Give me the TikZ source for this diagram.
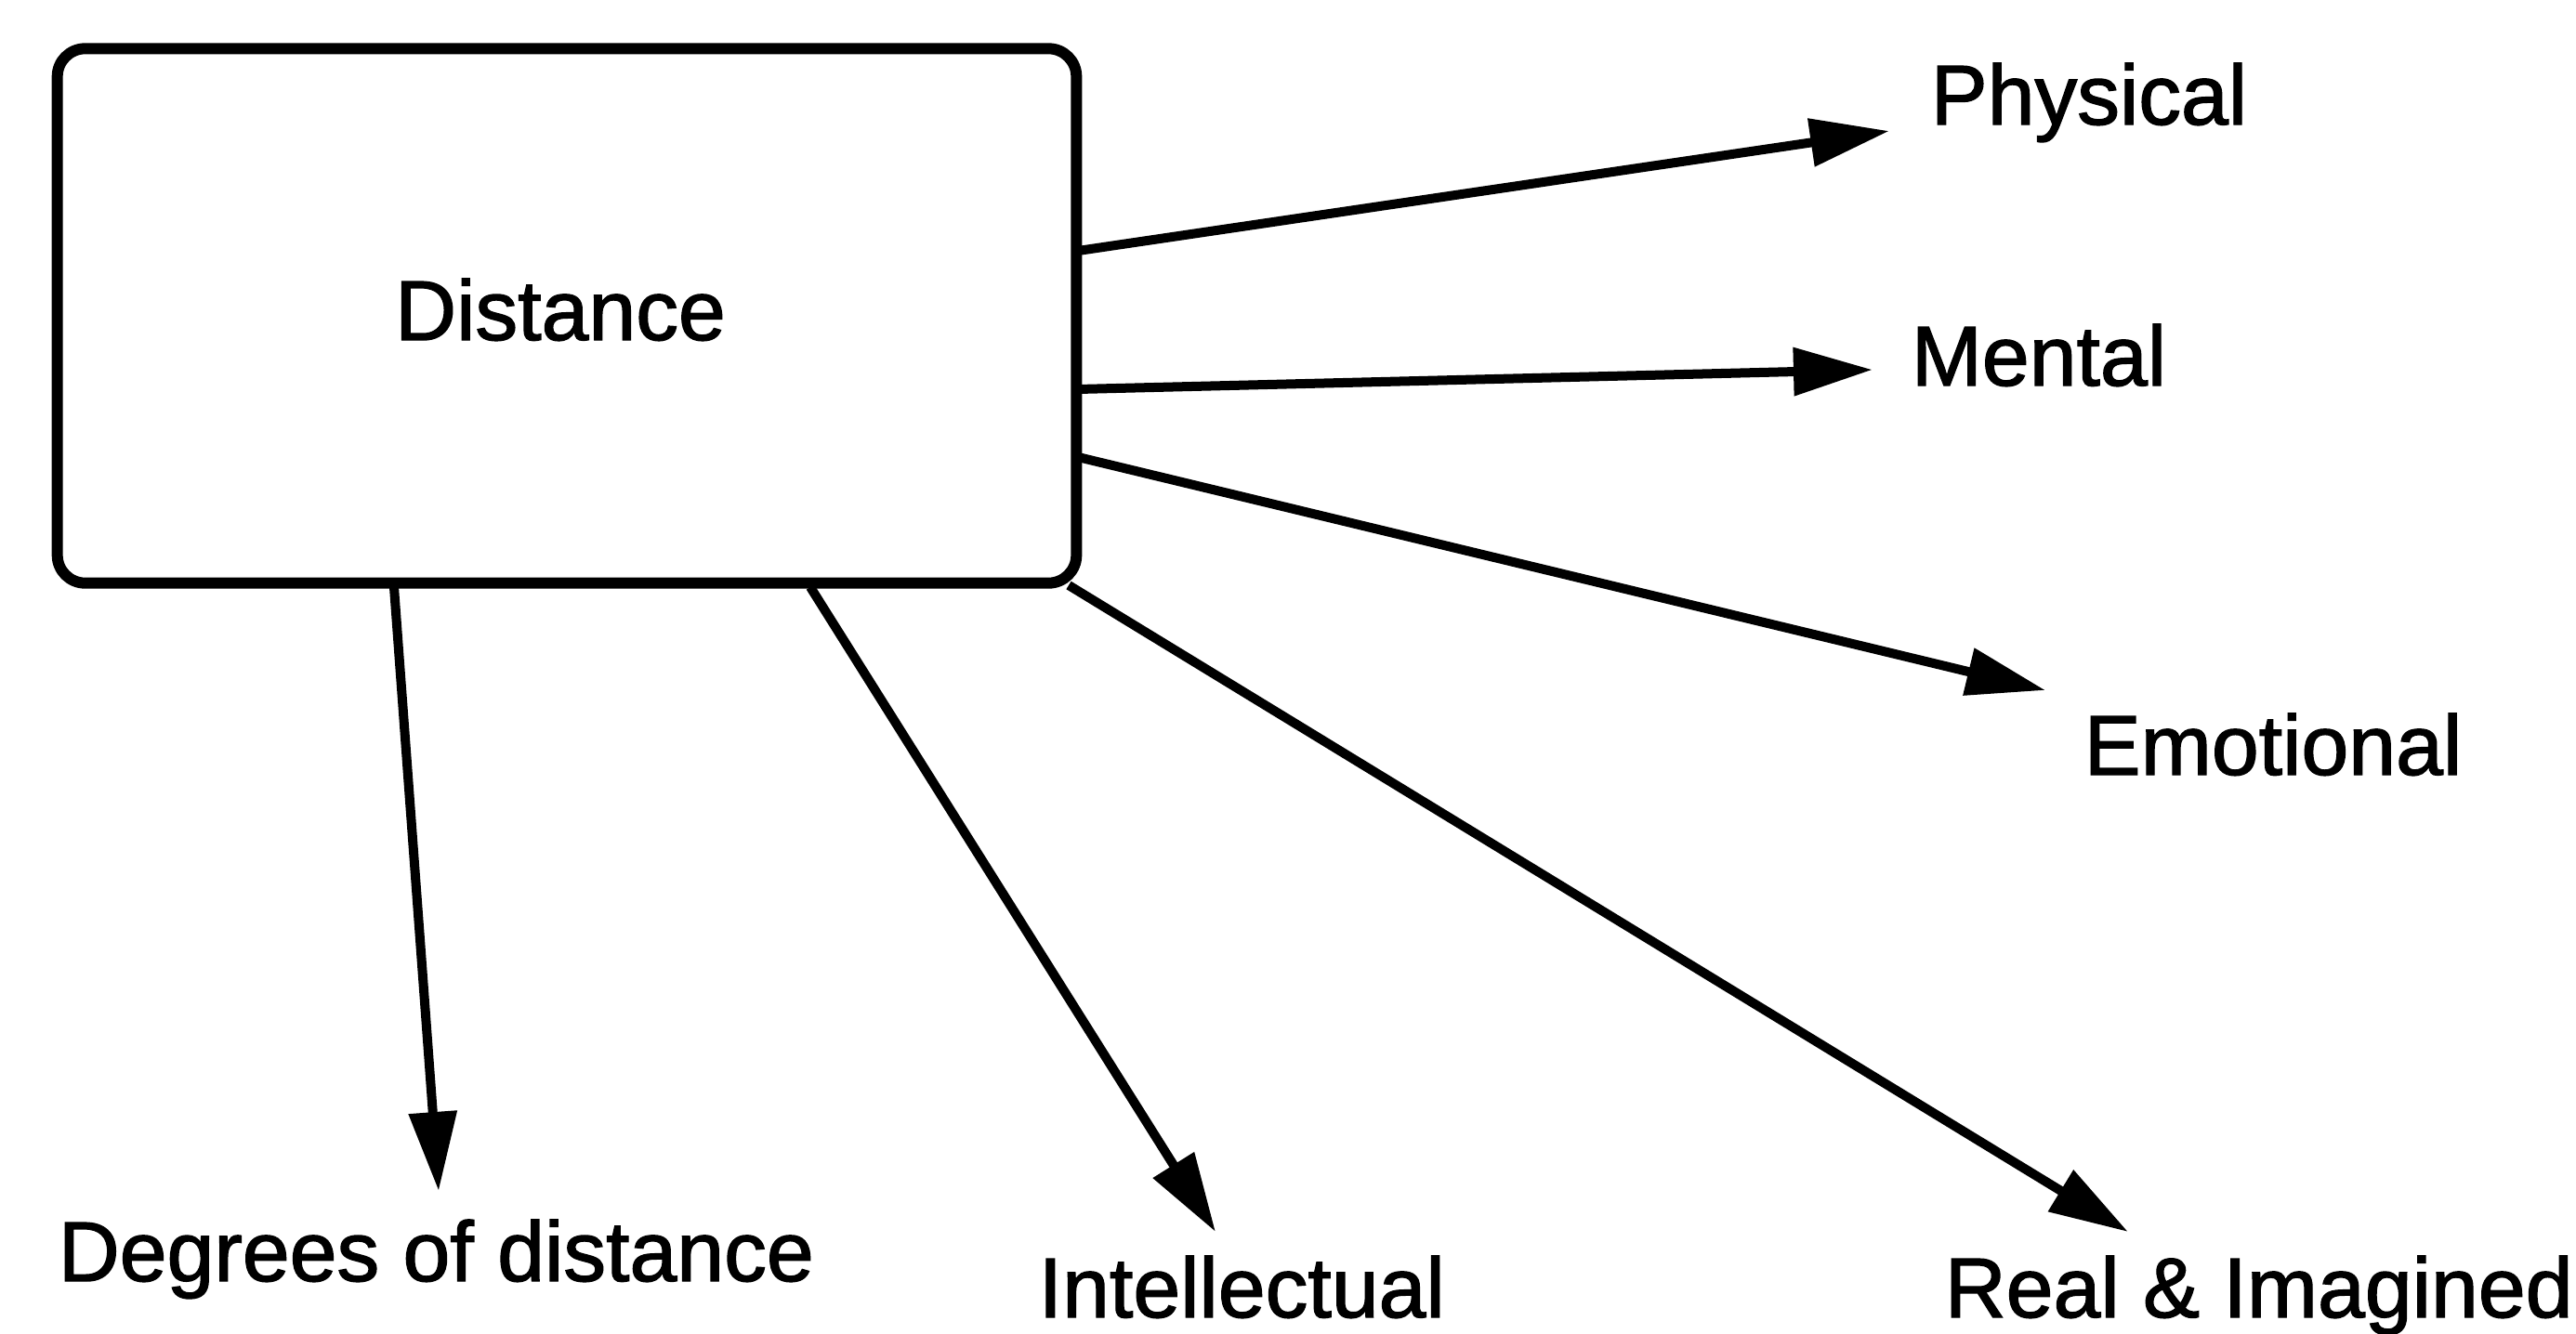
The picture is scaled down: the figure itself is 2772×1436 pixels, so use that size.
\documentclass[tikz,border=0pt]{standalone}
\usepackage{fontspec}
\setmainfont{Liberation Sans}
\newfontfamily\labelfont{Liberation Sans}[FakeBold=1.5, AutoFakeBold=1.5]
\usetikzlibrary{arrows.meta}
\begin{document}
\begin{tikzpicture}[x=0.01cm, y=-0.01cm,
  every node/.style={font=\labelfont\fontsize{26}{30}\selectfont, inner sep=0pt},
  mainbox/.style={draw, line width=0.12cm, rounded corners=0.3cm},
  branch/.style={line width=0.1cm, -{Triangle[length=0.85cm, width=0.5cm]}},
  lbl/.style={anchor=base west}]
  \useasboundingbox (0,0) rectangle (2772,1436);

  % central box
  \node[mainbox, minimum width=10.96cm, minimum height=5.75cm] (box) at (610,340) {};
  \node[anchor=base] (dist) at (603,366) {Distance};

  % labels
  \node[lbl] (phys) at (2077,134) {Physical};
  \node[lbl] (ment) at (2056,415) {Mental};
  \node[lbl] (emot) at (2242,834) {Emotional};
  \node[lbl] (degr) at (62,1379) {Degrees of distance};
  \node[lbl] (intl) at (1117,1418) {Intellectual};
  \node[lbl] (real) at (2092,1418) {Real \& Imagined};

  % start points on the box border
  \coordinate (sPhys) at (1160,270);
  \coordinate (sMent) at (1160,419);
  \coordinate (sEmot) at (1160,492);
  \coordinate (sDegr) at (424,632);
  \coordinate (sIntl) at (872,632);
  \coordinate (sReal) at (1150,630);

  % arrow tips
  \coordinate (tPhys) at (2033,141);
  \coordinate (tMent) at (2015,398);
  \coordinate (tEmot) at (2201,743);
  \coordinate (tDegr) at (472,1282);
  \coordinate (tIntl) at (1308,1326);
  \coordinate (tReal) at (2290,1326);

  \draw[branch] (sPhys) -- (tPhys);
  \draw[branch] (sMent) -- (tMent);
  \draw[branch] (sEmot) -- (tEmot);
  \draw[branch] (sDegr) -- (tDegr);
  \draw[branch] (sIntl) -- (tIntl);
  \draw[branch] (sReal) -- (tReal);
\end{tikzpicture}
\end{document}
